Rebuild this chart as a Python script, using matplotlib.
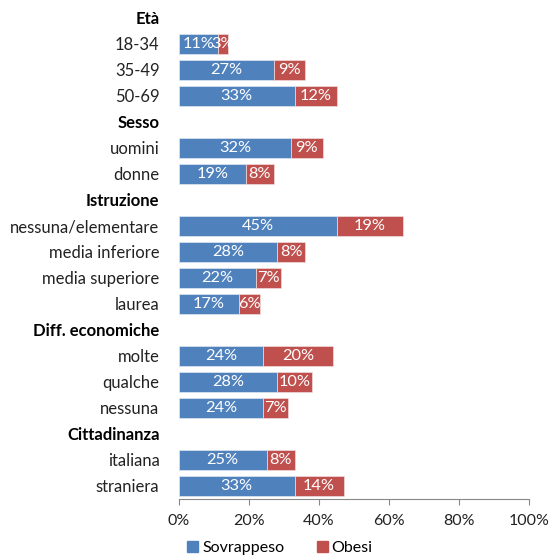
import matplotlib.pyplot as plt
import numpy as np

plt.rcParams['font.family'] = ['Lato', 'DejaVu Sans']

labels = ["Età", "18-34", "35-49", "50-69",
          "Sesso", "uomini", "donne",
          "Istruzione", "nessuna/elementare", "media inferiore", "media superiore", "laurea",
          "Diff. economiche", "molte", "qualche", "nessuna",
          "Cittadinanza", "italiana", "straniera"]
headers = ["Età", "Sesso", "Istruzione", "Diff. economiche", "Cittadinanza"]
sovrappeso = [None, 11, 27, 33, None, 32, 19, None, 45, 28, 22, 17, None, 24, 28, 24, None, 25, 33]
obesi = [None, 3, 9, 12, None, 9, 8, None, 19, 8, 7, 6, None, 20, 10, 7, None, 8, 14]

blue = '#4F81BD'
red = '#C0504D'

fig = plt.figure(figsize=(5.49, 5.55), dpi=100)
ax = fig.add_axes([0.326, 0.101, 0.638, 0.890])

y = np.arange(len(labels))
for i in y:
    s = sovrappeso[i]
    o = obesi[i]
    if s is None:
        continue
    ax.barh(i, s, height=0.77, color=blue, edgecolor='#dfe6f0', linewidth=0.5)
    ax.barh(i, o, left=s, height=0.77, color=red, edgecolor='#f0dcdc', linewidth=0.5)
    ax.text(s / 2, i, f"{s}%", ha='center', va='center', color='white', fontsize=11.8)
    ax.text(s + o / 2, i, f"{o}%", ha='center', va='center', color='white', fontsize=11.8)

ax.set_xlim(0, 100)
ax.set_ylim(len(labels) - 0.5, -0.5)
ax.set_yticks(y)
ax.set_yticklabels(labels, fontsize=12, color='#222222')
for t in ax.get_yticklabels():
    if t.get_text() in headers:
        t.set_fontweight('bold')
        t.set_color('black')
ax.tick_params(axis='y', length=0, pad=14)
ax.set_xticks([0, 20, 40, 60, 80, 100])
ax.set_xticklabels(["0%", "20%", "40%", "60%", "80%", "100%"], fontsize=11.5, color='#222222')
ax.tick_params(axis='x', direction='out', length=4, color='#888888', pad=7)
for sp in ['top', 'right', 'left']:
    ax.spines[sp].set_visible(False)
ax.spines['bottom'].set_color('#888888')

handles = [plt.Rectangle((0, 0), 1, 1, color=blue), plt.Rectangle((0, 0), 1, 1, color=red)]
fig.legend(handles, ["Sovrappeso", "Obesi"], loc='center', bbox_to_anchor=(0.51, 0.012),
           ncol=2, frameon=False, fontsize=11.5, handlelength=0.7, handleheight=0.7,
           handletextpad=0.25, columnspacing=2.0, borderpad=0.1)

fig.savefig('out.png', dpi=100)
